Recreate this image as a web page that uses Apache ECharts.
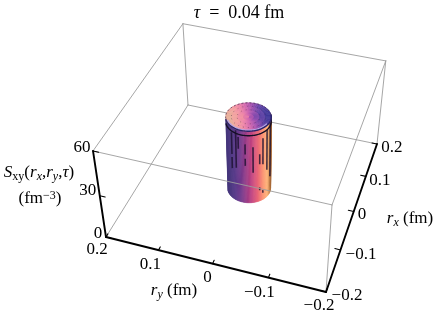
<!DOCTYPE html>
<html>
<head>
<meta charset="utf-8">
<style>html,body{margin:0;padding:0;background:#fff}#c{width:435px;height:316px}</style>
<script src="https://cdn.jsdelivr.net/npm/echarts@6/dist/echarts.min.js"></script>
</head>
<body>
<div id="c"></div>
<script>
// ---- data ----
const titleValue = '0.04';
const rxRange = [-0.2, 0.2];
const ryRange = [-0.2, 0.2];
const zRange = [0, 60];
const rxTicks = [-0.2, -0.1, 0, 0.1, 0.2];
const ryTicks = [0.2, 0.1, 0, -0.1, -0.2];
const zTicks = [0, 30, 60];
const rxTickLabels = ['\u22120.2', '\u22120.1', '0', '0.1', '0.2'];
const ryTickLabels = ['0.2', '0.1', '0', '\u22120.1', '\u22120.2'];
const zTickLabels = ['0', '30', '60'];
const surfaceRadius = 0.04;   // fm
const surfaceHeight = 51;     // fm^-3
const innerRings = [0.02, 0.03];
const rimDrop = 3;
// vertical mesh fragments on the wall: [view angle (deg), z from, z to]
const meshFragments = [
  [-147, 22, 30], [-147, 32, 47],
  [-133, 24, 50], [-126, 38, 46],
  [-108, 27, 32], [-108, 35, 42],
  [-88, 22, 40],
  [-70, 27, 34], [-70, 8, 10],
  [-60, 26, 44], [-60, 5, 7],
  [-45, 20, 48],
  [-26, 12, 50]
];

// ---- camera (view of the box) ----
const cam = {
  x: [200.25, 115.91, -20.25, 106],
  y: [37.31, -113.06, -97.8, 237],
  w: [-0.0606, 0.1804, -0.078, 1]
};
function project(rx, ry, z) {
  const a = (ryRange[1] - ry) / (ryRange[1] - ryRange[0]);
  const b = (rx - rxRange[0]) / (rxRange[1] - rxRange[0]);
  const c = (z - zRange[0]) / (zRange[1] - zRange[0]);
  const w = cam.w[0] * a + cam.w[1] * b + cam.w[2] * c + cam.w[3];
  return [
    (cam.x[0] * a + cam.x[1] * b + cam.x[2] * c + cam.x[3]) / w,
    (cam.y[0] * a + cam.y[1] * b + cam.y[2] * c + cam.y[3]) / w
  ];
}
const viewTurn = 62.7; // deg, from view angle to the rx-ry plane angle
function onCircle(r, alphaDeg, z) {
  const t = (alphaDeg - viewTurn) * Math.PI / 180;
  return project(r * Math.cos(t), r * Math.sin(t), z);
}

// ---- styles ----
const serif = '"Liberation Serif","Times New Roman",serif';
const fs = 17;
const grey = '#9c9c9c';
const wallColors = ['#43357a', '#553888', '#6f388c', '#9a3a86', '#c4427e', '#e86478', '#fb9272', '#ffb57a', '#a86a38'];
const capColors = ['#e8b09a', '#f4a0a0', '#ee84a8', '#d068b0', '#9c50b0', '#6444a8', '#403898'];
function lerpColor(t, list) { return echarts.color.lerp(Math.max(0, Math.min(1, t)), list); }

// edge segments of the box, in data space
const [x0, x1] = rxRange, [y0, y1] = ryRange, [z0, z1] = zRange;
const backEdges = [
  [x1, y1, z0, x1, y0, z0],
  [x1, y1, z0, x0, y1, z0],
  [x1, y1, z0, x1, y1, z1],
  [x1, y1, z1, x1, y0, z1],
  [x1, y1, z1, x0, y1, z1],
  [x1, y0, z0, x1, y0, z1],
  [x0, y0, z0, x0, y0, z1],
  [x1, y0, z1, x0, y0, z1]
];
const frontEdges = [[x0, y1, z1, x0, y0, z1]];
const axisEdges = [
  [x0, y1, z0, x0, y0, z0],
  [x0, y0, z0, x1, y0, z0],
  [x0, y1, z0, x0, y1, z1]
];
const tickLen = { rx: 0.008, ry: 0.01, z: 0.01 };
const tickSegs = [];
ryTicks.forEach(v => tickSegs.push([x0, v, z0, x0 + tickLen.rx, v, z0]));
rxTicks.forEach(v => tickSegs.push([v, y0, z0, v, y0 + tickLen.ry, z0]));
zTicks.forEach(v => tickSegs.push([x0, y1, v, x0, y1 - tickLen.z, v]));

function segSeries(data, color, width) {
  return {
    type: 'custom', coordinateSystem: 'cartesian2d', silent: true, data: data,
    renderItem: function (p, api) {
      const a = project(api.value(0), api.value(1), api.value(2));
      const b = project(api.value(3), api.value(4), api.value(5));
      const pa = api.coord(a), pb = api.coord(b);
      return { type: 'line', shape: { x1: pa[0], y1: pa[1], x2: pb[0], y2: pb[1] },
        style: { stroke: color, lineWidth: width, lineCap: 'round' } };
    }
  };
}

const surfaceSeries = {
  type: 'custom', coordinateSystem: 'cartesian2d', silent: true,
  data: [[surfaceRadius, surfaceHeight]],
  renderItem: function (p, api) {
    const r = api.value(0), h = api.value(1);
    const kids = [];
    const pt = (rad, al, z) => api.coord(onCircle(rad, al, z));
    const step = 3;
    for (let al = -180; al < 0; al += step) {
      const u = (Math.cos((al + step / 2) * Math.PI / 180) + 1) / 2;
      const col = lerpColor(u, wallColors);
      kids.push({ type: 'polygon',
        shape: { points: [pt(r, al, 0), pt(r, al + step, 0), pt(r, al + step, h), pt(r, al, h)] },
        style: { fill: col, stroke: col, lineWidth: 0.6 } });
    }
    meshFragments.forEach(m => {
      const a = pt(r, m[0], m[1]), b = pt(r, m[0], m[2]);
      kids.push({ type: 'line', shape: { x1: a[0], y1: a[1], x2: b[0], y2: b[1] },
        style: { stroke: '#1c1030', lineWidth: 1.6, opacity: 0.8 } });
    });
    const ring = [];
    for (let al = -180; al <= 0; al += step) ring.push(pt(r, al, h - rimDrop));
    kids.push({ type: 'polyline', shape: { points: ring }, style: { stroke: '#150f25', lineWidth: 1.4, fill: null } });
    const radii = [0, r * 0.25, r * 0.5, r * 0.75, r];
    for (let i = 0; i < radii.length - 1; i++) {
      for (let al = -180; al < 180; al += 6) {
        const u = (radii[i + 1] * Math.cos((al + 3) * Math.PI / 180) / r + 1) / 2;
        const col = lerpColor(u, capColors);
        kids.push({ type: 'polygon',
          shape: { points: [pt(radii[i], al, h), pt(radii[i + 1], al, h), pt(radii[i + 1], al + 6, h), pt(radii[i], al + 6, h)] },
          style: { fill: col, stroke: col, lineWidth: 0.6 } });
      }
    }
    innerRings.forEach(q => {
      const pts = [];
      for (let al = -180; al <= 180; al += 6) pts.push(pt(q, al, h));
      kids.push({ type: 'polyline', shape: { points: pts },
        style: { stroke: '#3a2040', lineWidth: 0.6, lineDash: [1, 4], fill: null, opacity: 0.7 } });
    });
    const lip = [];
    for (let al = -175; al <= -40; al += step) lip.push(pt(r * 0.93, al, h));
    kids.push({ type: 'polyline', shape: { points: lip }, style: { stroke: '#b3a6e6', lineWidth: 1.4, fill: null } });
    const front = [];
    for (let al = -180; al <= 0; al += step) front.push(pt(r, al, h));
    kids.push({ type: 'polyline', shape: { points: front }, style: { stroke: '#2a2468', lineWidth: 1.4, fill: null } });
    const rear = [];
    for (let al = 0; al <= 180; al += step) rear.push(pt(r, al, h));
    kids.push({ type: 'polyline', shape: { points: rear }, style: { stroke: '#4a3050', lineWidth: 0.8, lineDash: [2, 2], fill: null } });
    return { type: 'group', children: kids };
  }
};

// ---- labels ----
const rich = {
  i: { fontFamily: serif, fontStyle: 'italic', fontSize: fs, color: '#000' },
  n: { fontFamily: serif, fontSize: fs, color: '#000' },
  t: { fontFamily: serif, fontSize: 18, color: '#000' },
  ti: { fontFamily: serif, fontStyle: 'italic', fontSize: 18, color: '#000' },
  sub: { fontFamily: serif, fontSize: 12, color: '#000', padding: [7, 0, 0, 0] },
  isub: { fontFamily: serif, fontStyle: 'italic', fontSize: 12, color: '#000', padding: [7, 0, 0, 0] },
  sup: { fontFamily: serif, fontSize: 12, color: '#000', padding: [0, 0, 7, 0] }
};
function tickLabelSeries(vals, labels, toPoint, offs) {
  return {
    type: 'custom', coordinateSystem: 'cartesian2d', silent: true,
    data: vals.map(v => [v]),
    renderItem: function (p, api) {
      const q = api.coord(toPoint(api.value(0)));
      const o = offs[p.dataIndex];
      return { type: 'text', x: q[0] + o[0], y: q[1] + o[1],
        style: { text: labels[p.dataIndex], align: 'center', verticalAlign: 'middle',
          fontFamily: serif, fontSize: fs, fill: '#000' } };
    }
  };
}
const ryOff = [[-9, 13], [-8, 14], [-5, 13.5], [-9, 14.5], [-7, 14]];
const rxOff = [[21, 4], [20.5, 4.5], [8.3, 3.5], [14, 3.7], [15, 3.5]];
const zOff = [[-8, -3], [-12, -5], [-11, -3]];

const chart = echarts.init(document.getElementById('c'), null, { renderer: 'canvas' });
chart.setOption({
  animation: false,
  backgroundColor: '#fff',
  grid: { left: 0, right: 0, top: 0, bottom: 0 },
  xAxis: { type: 'value', min: 0, max: 435, show: false },
  yAxis: { type: 'value', min: 0, max: 316, inverse: true, show: false },
  series: [
    segSeries(backEdges, grey, 0.9),
    surfaceSeries,
    segSeries(frontEdges, grey, 0.9),
    segSeries(axisEdges, '#000', 1.9),
    segSeries(tickSegs, '#000', 1.1),
    tickLabelSeries(ryTicks, ryTickLabels, v => project(x0, v, z0), ryOff),
    tickLabelSeries(rxTicks, rxTickLabels, v => project(v, y0, z0), rxOff),
    tickLabelSeries(zTicks, zTickLabels, v => project(x0, y1, v), zOff)
  ],
  graphic: [
    { type: 'text', x: 239, y: 13, silent: true, style: { text: '{ti|\u03c4}{t|  =  ' + titleValue + ' fm}', align: 'center', verticalAlign: 'middle', rich: rich } },
    { type: 'text', x: 39, y: 173, silent: true, style: { text: '{i|S}{sub|xy}{n|(}{i|r}{isub|x}{n|,}{i|r}{isub|y}{n|,}{i|\u03c4}{n|)}', align: 'center', verticalAlign: 'middle', rich: rich } },
    { type: 'text', x: 40, y: 199, silent: true, style: { text: '{n|(fm}{sup|\u22123}{n|)}', align: 'center', verticalAlign: 'middle', rich: rich } },
    { type: 'text', x: 174, y: 291, silent: true, style: { text: '{i|r}{isub|y}{n| (fm)}', align: 'center', verticalAlign: 'middle', rich: rich } },
    { type: 'text', x: 410, y: 219, silent: true, style: { text: '{i|r}{isub|x}{n| (fm)}', align: 'center', verticalAlign: 'middle', rich: rich } }
  ]
});
</script>
</body>
</html>
